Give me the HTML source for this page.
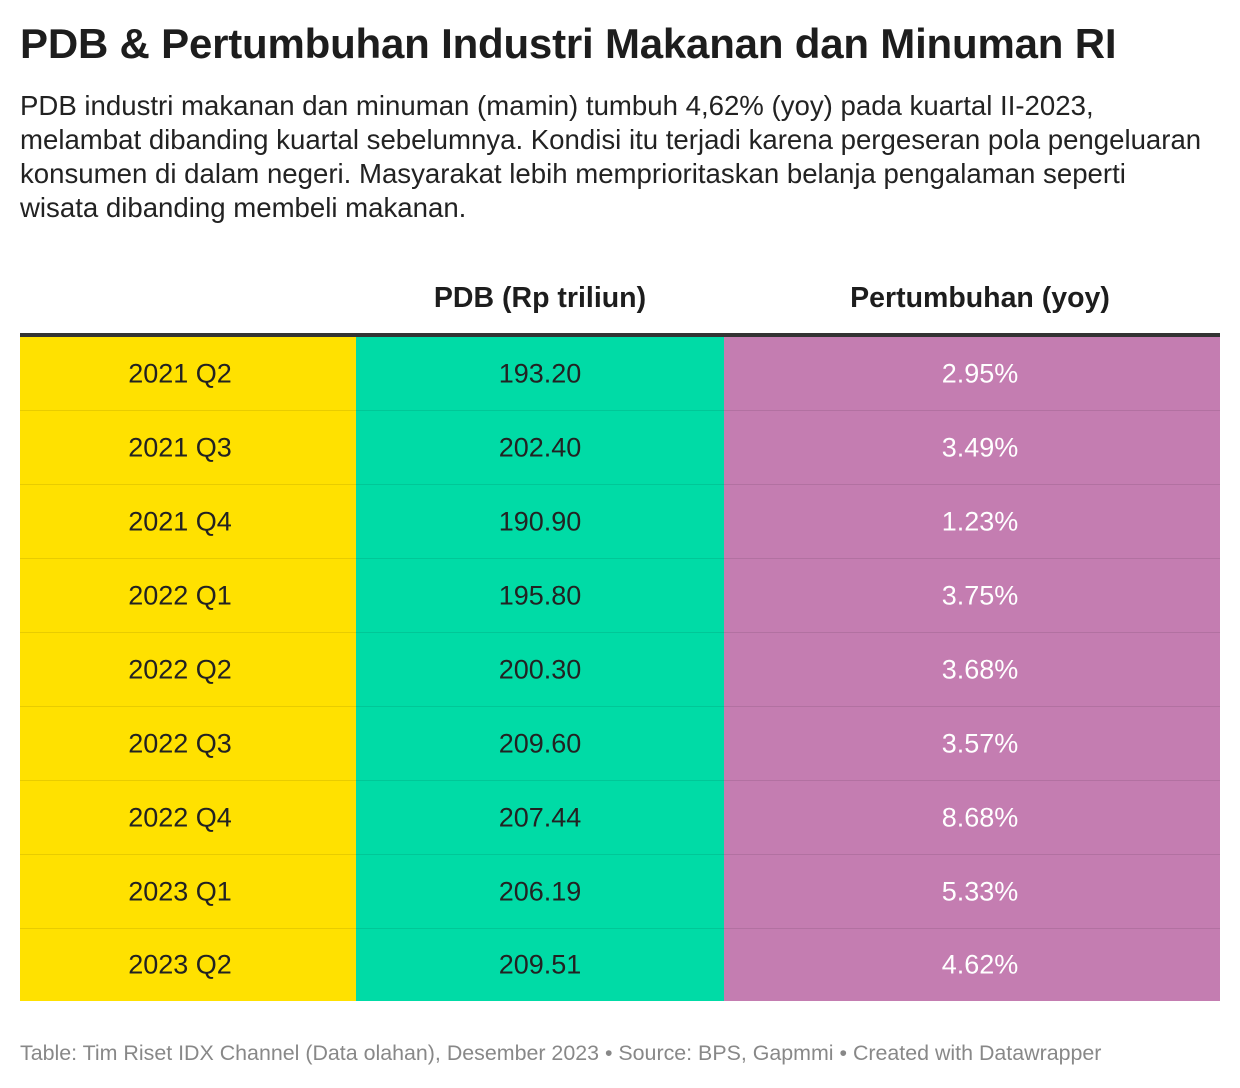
<!DOCTYPE html>
<html><head><meta charset="utf-8">
<style>
html,body{margin:0;padding:0;background:#fff;}
body{width:1240px;height:1088px;position:relative;font-family:"Liberation Sans",Arial,sans-serif;color:#1d1d1d;overflow:hidden;}
.title{position:absolute;left:20px;top:20px;font-size:42px;font-weight:bold;white-space:nowrap;letter-spacing:-0.2px;}
.sub{position:absolute;left:20px;top:89px;font-size:27.6px;line-height:34px;white-space:nowrap;color:#222;}
.hdr{position:absolute;top:282px;font-size:28.5px;font-weight:bold;text-align:center;}
.line{position:absolute;left:20px;top:333px;width:1200px;height:4px;background:#333;}
.row{position:absolute;left:20px;width:1200px;height:74px;}
.c{position:absolute;top:0;height:100%;font-size:27px;}
.c span{position:absolute;top:50%;transform:translate(-50%,-50%);white-space:nowrap;}
.c1{left:0;width:336px;background:#ffe100;color:#222;}
.c2{left:336px;width:368px;background:#00dba6;color:#222;}
.c3{left:704px;width:496px;background:#c47db1;color:#fff;}
.c1 span{left:160px}.c2 span{left:184px}.c3 span{left:256px}
.sep{position:absolute;left:0;bottom:0;width:1200px;height:1px;background:rgba(0,0,0,0.09);}
.foot{position:absolute;left:20px;top:1041px;font-size:21.4px;color:#888;white-space:nowrap;}
</style></head><body>
<div class="title">PDB &amp; Pertumbuhan Industri Makanan dan Minuman RI</div>
<div class="sub">PDB industri makanan dan minuman (mamin) tumbuh 4,62% (yoy) pada kuartal II-2023,<br>melambat dibanding kuartal sebelumnya. Kondisi itu terjadi karena pergeseran pola pengeluaran<br>konsumen di dalam negeri. Masyarakat lebih memprioritaskan belanja pengalaman seperti<br>wisata dibanding membeli makanan.</div>
<div class="hdr" style="left:356px;width:368px;">PDB (Rp triliun)</div>
<div class="hdr" style="left:724px;width:512px;">Pertumbuhan (yoy)</div>
<div class="line"></div>

<div class="row" style="top:337px"><div class="c c1"><span>2021 Q2</span></div><div class="c c2"><span>193.20</span></div><div class="c c3"><span>2.95%</span></div><div class="sep"></div></div>
<div class="row" style="top:411px"><div class="c c1"><span>2021 Q3</span></div><div class="c c2"><span>202.40</span></div><div class="c c3"><span>3.49%</span></div><div class="sep"></div></div>
<div class="row" style="top:485px"><div class="c c1"><span>2021 Q4</span></div><div class="c c2"><span>190.90</span></div><div class="c c3"><span>1.23%</span></div><div class="sep"></div></div>
<div class="row" style="top:559px"><div class="c c1"><span>2022 Q1</span></div><div class="c c2"><span>195.80</span></div><div class="c c3"><span>3.75%</span></div><div class="sep"></div></div>
<div class="row" style="top:633px"><div class="c c1"><span>2022 Q2</span></div><div class="c c2"><span>200.30</span></div><div class="c c3"><span>3.68%</span></div><div class="sep"></div></div>
<div class="row" style="top:707px"><div class="c c1"><span>2022 Q3</span></div><div class="c c2"><span>209.60</span></div><div class="c c3"><span>3.57%</span></div><div class="sep"></div></div>
<div class="row" style="top:781px"><div class="c c1"><span>2022 Q4</span></div><div class="c c2"><span>207.44</span></div><div class="c c3"><span>8.68%</span></div><div class="sep"></div></div>
<div class="row" style="top:855px"><div class="c c1"><span>2023 Q1</span></div><div class="c c2"><span>206.19</span></div><div class="c c3"><span>5.33%</span></div><div class="sep"></div></div>
<div class="row" style="top:929px;height:72px"><div class="c c1"><span>2023 Q2</span></div><div class="c c2"><span>209.51</span></div><div class="c c3"><span>4.62%</span></div></div>

<div class="foot">Table: Tim Riset IDX Channel (Data olahan), Desember 2023 • Source: BPS, Gapmmi • Created with Datawrapper</div>
</body></html>
